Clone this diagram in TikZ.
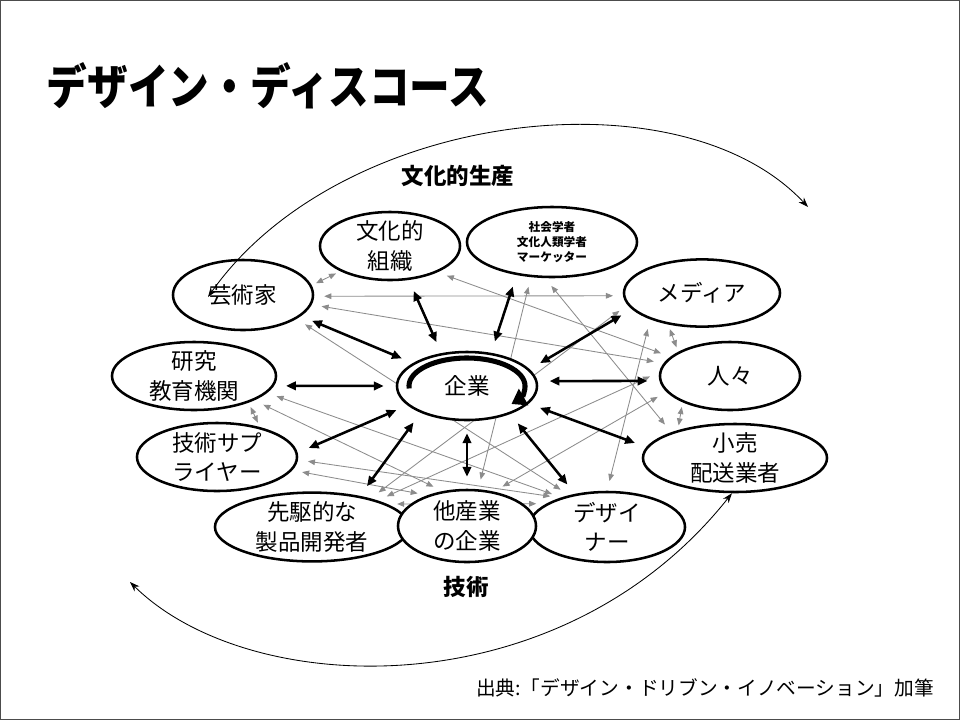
\documentclass[tikz,border=0pt]{standalone}
\usepackage{fontspec}
\newfontfamily\jp{Noto Sans CJK JP}
\usetikzlibrary{shapes.geometric, arrows.meta}
\pgfdeclarelayer{back}
\pgfdeclarelayer{under}
\pgfsetlayers{back,under,main}
\pgfdeclareradialshading{slide}{\pgfpoint{-10bp}{0bp}}{color(0bp)=(white); color(40bp)=(white); color(64bp)=(black!22)}
\tikzstyle{actor} = [ellipse, draw, line width=1.8pt, fill=white, inner sep=-8pt, align=center, font=\jp\fontsize{16}{21}\selectfont]
\tikzstyle{link} = [{Triangle[length=7pt,width=6pt]}-{Triangle[length=7pt,width=6pt]}, line width=1.8pt, shorten <=0.3cm, shorten >=0.3cm]
\tikzstyle{sublink} = [{Triangle[length=5pt,width=4pt]}-{Triangle[length=5pt,width=4pt]}, black!45, line width=0.6pt, shorten <=0.25cm, shorten >=0.25cm]
\tikzstyle{shortlink} = [sublink, shorten <=0.12cm, shorten >=0.12cm]
\tikzstyle{flow} = [{Stealth[length=7pt,width=5pt]}-{Stealth[length=7pt,width=5pt]}, line width=0.6pt]
\tikzstyle{swirl} = [-{Triangle[length=10pt,width=13pt]}, line width=3.6pt]
\tikzstyle{caption} = [font=\jp\bfseries\fontsize{16}{20}\selectfont]

\begin{document}
\begin{tikzpicture}[x=0.025cm, y=-0.025cm]
  % 背景
  \begin{pgfonlayer}{back}
    \shade[shading=slide] (0,0) rectangle (960,720);
    \draw[black!70, line width=1pt] (0.7,0.7) rectangle (959.3,719.3);
  \end{pgfonlayer}
  \useasboundingbox (0,0) rectangle (960,720);

  % タイトル
  \node[anchor=west, font=\jp\bfseries\fontsize{34}{40}\selectfont] (title) at (42,86) {\scalebox{0.85}[1]{デザイン・ディスコース}};

  % 企業と周りの担い手
  \node[actor, minimum width=3.5cm, minimum height=1.7cm] (kigyo) at (467,386) {企業};
  \node[actor, minimum width=3.5cm, minimum height=1.75cm] (geijutsu) at (243,295) {芸術家};
  \node[actor, minimum width=3.5cm, minimum height=1.7cm] (bunka) at (390,246) {文化的\\組織};
  \node[actor, minimum width=4.25cm, minimum height=1.75cm, font=\jp\bfseries\fontsize{8.3}{10.7}\selectfont] (shakai) at (552,242) {社会学者\\文化人類学者\\マーケッター};
  \node[actor, minimum width=3.9cm, minimum height=1.68cm] (media) at (702,293) {メディア};
  \node[actor, minimum width=4.1cm, minimum height=1.7cm] (kenkyu) at (194,376) {研究\\教育機関};
  \node[actor, minimum width=3.5cm, minimum height=1.7cm] (hito) at (730,376) {人々};
  \node[actor, minimum width=4.0cm, minimum height=1.7cm] (gijutsu) at (217,457) {技術サプ\\ライヤー};
  \node[actor, minimum width=4.6cm, minimum height=1.7cm] (kouri) at (735,458) {小売\\配送業者};
  \node[actor, minimum width=4.85cm, minimum height=1.72cm] (senku) at (312,527) {先駆的な\\製品開発者};
  \node[actor, minimum width=3.9cm, minimum height=1.75cm] (design) at (607,527) {デザイ\\ナー};
  \node[actor, minimum width=3.45cm, minimum height=1.8cm] (tasan) at (467,526) {他産業\\の企業};

  % 企業の中の循環
  \draw[swirl] ([shift={(185:1.45cm and 0.7cm)}]kigyo.center) arc[start angle=185, end angle=-40, x radius=1.45cm, y radius=0.7cm];

  % 担い手どうし
  \begin{pgfonlayer}{under}
    \draw[shortlink] (geijutsu.8) -- (bunka.207);
    \draw[sublink] (geijutsu.359) -- (media.182);
    \draw[sublink] (geijutsu.352) -- (hito.169);
    \draw[sublink] (geijutsu.336) -- (design.140);
    \draw[sublink] (bunka.331) -- (hito.162);
    \draw[sublink] (shakai.239) -- (tasan.73);
    \draw[sublink] (shakai.259) -- (kouri.158);
    \draw[sublink] (media.189) -- (senku.26);
    \draw[sublink] (media.207) -- (design.90);
    \draw[shortlink] (media.223) -- (hito.155);
    \draw[sublink] (hito.177) -- (senku.22);
    \draw[sublink] (hito.194) -- (tasan.52);
    \draw[shortlink] (hito.209) -- (kouri.154);
    \draw[sublink] (kenkyu.347) -- (design.147);
    \draw[sublink] (kenkyu.338) -- (tasan.125);
    \draw[shortlink] (kenkyu.334) -- (gijutsu.35);
    \draw[sublink] (gijutsu.358) -- (design.148);
    \draw[sublink] (gijutsu.350) -- (tasan.142);
    \draw[sublink] (senku.17) -- (design.159);
  \end{pgfonlayer}

  % 企業との対話
  \draw[link] (geijutsu.340) -- (kigyo.157);
  \draw[link] (bunka.299) -- (kigyo.128);
  \draw[link] (shakai.223) -- (kigyo.54);
  \draw[link] (media.193) -- (kigyo.15);
  \draw[link] (kenkyu.353) -- (kigyo.180);
  \draw[link] (hito.184) -- (kigyo.4);
  \draw[link] (gijutsu.3) -- (kigyo.198);
  \draw[link] (kouri.173) -- (kigyo.344);
  \draw[link] (senku.33) -- (kigyo.210);
  \draw[link] (tasan.90) -- (kigyo.270);
  \draw[link] (design.134) -- (kigyo.327);

  % 文化的生産と技術の流れ
  \coordinate (cultL) at (208,297);
  \coordinate (cultR) at (808,207);
  \draw[flow] (cultL) .. controls (340,110) and (680,70) .. (cultR);
  \coordinate (techL) at (130,582);
  \draw[flow] (techL) .. controls (250,700) and (560,710) .. (kouri.265);
  \node[caption] (culture) at (458,176) {文化的生産};
  \node[caption] (tech) at (466,587) {技術};

  % 出典
  \node[font=\jp\fontsize{14}{16}\selectfont] (source) at (705,688) {出典:「デザイン・ドリブン・イノベーション」加筆};
\end{tikzpicture}
\end{document}
